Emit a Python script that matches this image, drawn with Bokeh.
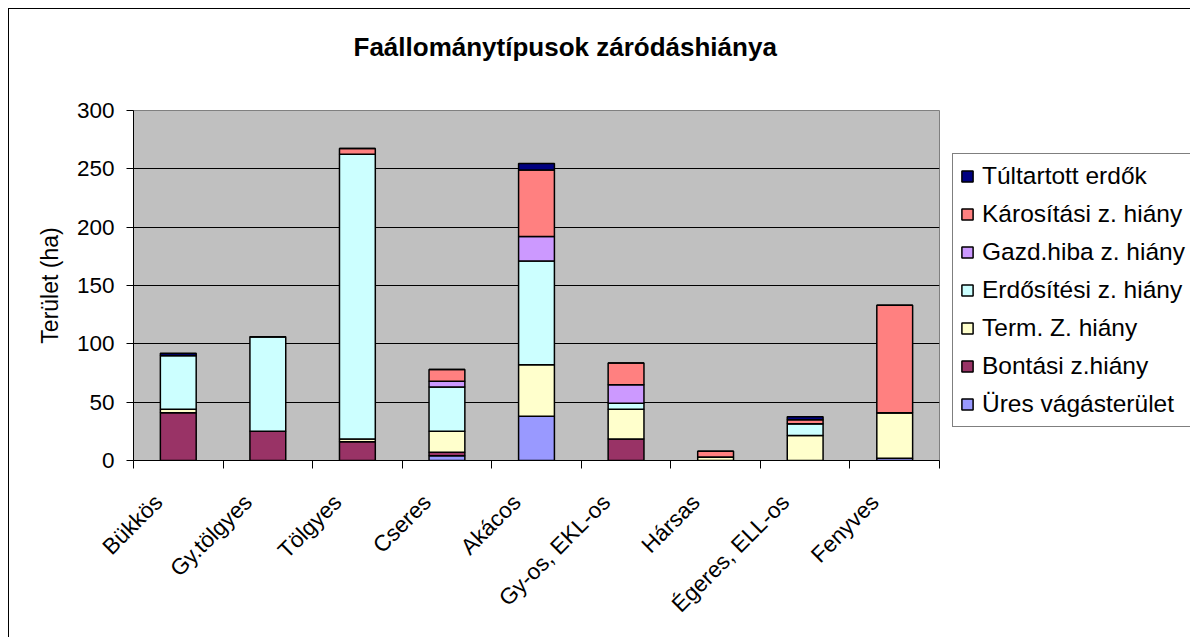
import math
from bokeh.plotting import figure
from bokeh.models import (Range1d, FixedTicker, Legend, LegendItem, Title, ColumnDataSource)
from bokeh.embed import file_html
from bokeh.resources import INLINE

categories = ["Bükkös", "Gy.tölgyes", "Tölgyes", "Cseres", "Akácos",
              "Gy-os, EKL-os", "Hársas", "Égeres, ELL-os", "Fenyves"]
series_names = ["Üres vágásterület", "Bontási z.hiány", "Term. Z. hiány",
                "Erdősítési z. hiány", "Gazd.hiba z. hiány", "Károsítási z. hiány",
                "Túltartott erdők"]
ures = [0, 0, 0, 4, 38, 0, 0, 0, 2]
bontasi = [41, 25, 16, 3, 0, 18.5, 0, 0, 0]
term = [3, 0, 2.5, 18, 44, 25.5, 3, 21.5, 39]
erdo = [46, 81, 244, 38, 89, 5, 0, 10, 0]
gazd = [0, 0, 0, 5, 21, 16, 0, 0, 0]
karos = [0, 0, 5, 10, 57, 18.5, 5, 3.5, 92]
tul = [2, 0, 0, 0, 5.5, 0, 0, 2.5, 0]
y_ticks = [0, 50, 100, 150, 200, 250, 300]
title_text = "Faállománytípusok záródáshiánya"

colors = ["#9999FF", "#993366", "#FFFFCC", "#CCFFFF", "#CC99FF", "#FF8080", "#000080"]
keys = ["ures", "bontasi", "term", "erdo", "gazd", "karos", "tul"]

xpos = [i + 0.5 for i in range(len(categories))]
label_pos = [x - 0.22 for x in xpos]
src = ColumnDataSource(dict(x=xpos, ures=ures, bontasi=bontasi, term=term, erdo=erdo,
                            gazd=gazd, karos=karos, tul=tul))

FONT = "Liberation Sans"

p = figure(width=1180, height=628, output_backend="svg", toolbar_location=None,
           x_range=Range1d(0, len(categories)), y_range=Range1d(0, 300),
           frame_width=806, frame_height=350,
           min_border_left=124, min_border_right=250, min_border_top=101, min_border_bottom=177,
           background_fill_color="#C0C0C0", border_fill_color="white",
           outline_line_color="#808080", outline_line_width=1)
p.styles = {"border-left": "1px solid black", "border-top": "1px solid black",
            "margin-left": "8px", "margin-top": "8px"}

renderers = p.vbar_stack(keys, x="x", width=0.4, source=src, fill_color=colors,
                         line_color="black", line_width=1.5)

# second (blank) line lifts the title away from the plot area
title = Title(text=title_text + "\n\u00a0", align="left",
              text_font=FONT, text_font_size="26px", text_font_style="bold",
              text_color="black", offset=220, standoff=38)
p.add_layout(title, "above")

# y axis
p.yaxis.ticker = FixedTicker(ticks=y_ticks)
p.yaxis.axis_label = "Terület (ha)"
p.yaxis.axis_label_text_font = FONT
p.yaxis.axis_label_text_font_size = "23px"
p.yaxis.axis_label_text_font_style = "normal"
p.yaxis.axis_label_text_color = "black"
p.yaxis.axis_label_standoff = 11
p.yaxis.major_label_text_font = FONT
p.yaxis.major_label_text_font_size = "22.5px"
p.yaxis.major_label_text_color = "black"
p.yaxis.major_label_standoff = 12
p.yaxis.major_tick_out = 7
p.yaxis.major_tick_in = 0
p.yaxis.minor_tick_line_color = None
p.yaxis.axis_line_color = "black"
p.yaxis.major_tick_line_color = "black"

# x axis: labels under categories, ticks at category boundaries
xax = p.below[0]
xax.ticker = FixedTicker(ticks=label_pos, minor_ticks=list(range(len(categories) + 1)))
xax.major_label_overrides = {x: c for x, c in zip(label_pos, categories)}
xax.major_label_orientation = math.pi / 4
xax.major_label_text_font = FONT
xax.major_label_text_font_size = "22.5px"
xax.major_label_text_color = "black"
xax.major_tick_line_color = None
xax.major_tick_out = 0
xax.minor_tick_out = 8
xax.minor_tick_in = 0
xax.minor_tick_line_color = "black"
xax.major_label_standoff = 30
xax.axis_line_color = "black"

p.xgrid.grid_line_color = None
p.ygrid.ticker = FixedTicker(ticks=y_ticks[1:-1])
p.ygrid.grid_line_color = "black"
p.ygrid.grid_line_width = 1

items = [LegendItem(label=n, renderers=[r]) for n, r in zip(series_names, renderers)]
items = items[::-1]
legend = Legend(items=items, location=(13, 33), orientation="vertical",
                label_text_font=FONT, label_text_font_size="24.5px",
                label_text_color="black",
                glyph_width=14, glyph_height=14, label_standoff=8,
                label_height=30, spacing=8, padding=7, margin=0,
                border_line_color="black", border_line_width=1,
                background_fill_color="white", background_fill_alpha=1)
p.add_layout(legend, "right")

open("out.html", "w").write(file_html(p, INLINE))
